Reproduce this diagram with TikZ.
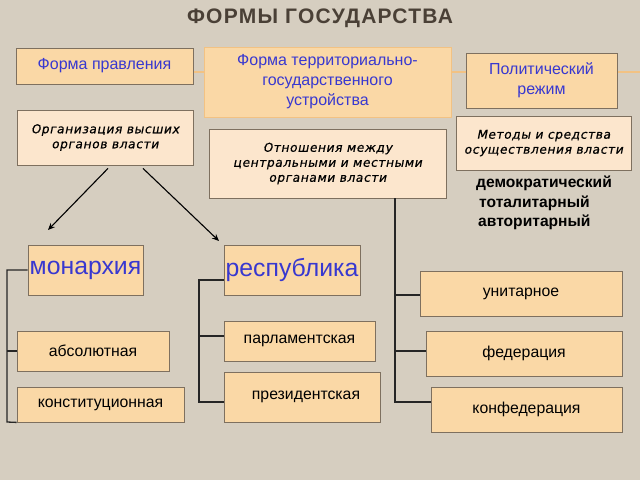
\documentclass[tikz,border=0pt]{standalone}
\usepackage{fontspec}
\setmainfont{Liberation Sans}
\newfontfamily\titlef[LetterSpace=6]{Liberation Sans}
\newfontfamily\italf[FakeSlant=0.2,LetterSpace=5,FakeBold=0.6]{DejaVu Sans}
\usetikzlibrary{arrows.meta}
\definecolor{bgc}{HTML}{D6CEC0}
\definecolor{boxf}{HTML}{FAD8A6}
\definecolor{boxl}{HTML}{FCE6CD}
\definecolor{boxd}{HTML}{7E705F}
\definecolor{boxo}{HTML}{F2C283}
\definecolor{bluet}{HTML}{3838D0}
\definecolor{titlec}{HTML}{4A4036}
\tikzset{
  x=1pt, y=-1pt,
  box/.style={draw=boxd, line width=0.8pt, fill=boxf, inner sep=0pt, align=center},
  lbox/.style={box, fill=boxl},
  bt/.style={font=\fontsize{16}{20}\selectfont, text=bluet},
  big/.style={font=\fontsize{24.8}{28}\selectfont, text=bluet},
  kt/.style={font=\fontsize{15.8}{18}\selectfont, text=black},
  it/.style={font=\italf\fontsize{12.2}{15}\selectfont, text=black},
  br/.style={draw=black!85, line width=1.3pt},
  arr/.style={draw=black, line width=1.1pt, -{Stealth[length=7pt,width=6pt]}},
}
\begin{document}
\begin{tikzpicture}
\fill[bgc] (0,0) rectangle (640,480);
\useasboundingbox (0,0) rectangle (640,480);
\node[font=\titlef\bfseries\fontsize{21}{22}\selectfont, text=titlec] (title) at (320,18) {ФОРМЫ ГОСУДАРСТВА};
\draw[boxo, line width=1.5pt] (193,72) -- (640,72);
% top row
\node[box, minimum width=177, minimum height=36, bt] (fp) at (104.5,66) {Форма правления};
\node[box, draw=boxo, minimum width=247, minimum height=70, bt] (ft) at (327.5,82) {\raisebox{-2pt}{Форма территориально-}\\\raisebox{-2pt}{государственного}\\\raisebox{-2pt}{устройства}};
\node[box, minimum width=151, minimum height=55, bt] (pr) at (541.5,80.5) {Политический\\режим};
% second row
\node[lbox, minimum width=176, minimum height=55, it] (org) at (105,137.5) {Организация высших\\органов власти};
\node[lbox, minimum width=237, minimum height=69, it] (otn) at (327.5,163.5) {\raisebox{-2pt}{Отношения между}\\\raisebox{-2pt}{центральными и местными}\\\raisebox{-2pt}{органами власти}};
\node[lbox, minimum width=175, minimum height=54, it] (met) at (543.5,143) {Методы и средства\\осуществления власти};
\node[font=\bfseries\fontsize{15.6}{19.3}\selectfont, align=left, anchor=north west, inner sep=0pt] (reg) at (476,176) {демократический\\\hspace{3pt}тоталитарный\\\hspace{2pt}авторитарный};
% arrows
\coordinate (a1) at (48,230);
\coordinate (a2) at (219,241);
\draw[arr] ([xshift=3pt,yshift=-3pt]org.south) -- (a1);
\draw[arr] ([xshift=38pt,yshift=-3pt]org.south) -- (a2);
% monarchy
\node[box, minimum width=115, minimum height=50, big] (mon) at (85.5,270) {монархия};
\node[box, minimum width=152, minimum height=40, kt] (abs) at (93,351) {абсолютная};
\node[box, minimum width=167, minimum height=35, kt] (kon) at (100.5,404.5) {конституционная};
\draw[br] (mon.west) -- (7,270) -- (7,422) -- (kon.south west);
\draw[br] (7,351) -- (abs.west);
% republic
\node[box, minimum width=136, minimum height=50, big] (rep) at (292,270) {республика};
\node[box, minimum width=151, minimum height=40, kt] (par) at (299.5,341) {парламентская};
\node[box, minimum width=156, minimum height=50, kt] (pre) at (302,397) {\hspace{8pt}президентская};
\draw[br] (rep.west |- 0,280) -- (199,280) -- (199,402) -- (pre.west |- 0,402);
\draw[br] (199,336) -- (par.west |- 0,336);
% territorial
\node[box, minimum width=202, minimum height=45, kt] (uni) at (521,293.5) {унитарное};
\node[box, minimum width=196, minimum height=45, kt] (fed) at (524,353.5) {федерация};
\node[box, minimum width=191, minimum height=45, kt] (knf) at (526.5,409.5) {конфедерация};
\draw[br, line width=1.8pt] (otn.south -| 395,0) -- (395,402) -- (knf.west |- 0,402);
\draw[br] (395,295) -- (uni.west |- 0,295);
\draw[br] (395,351) -- (fed.west |- 0,351);
\end{tikzpicture}
\end{document}
